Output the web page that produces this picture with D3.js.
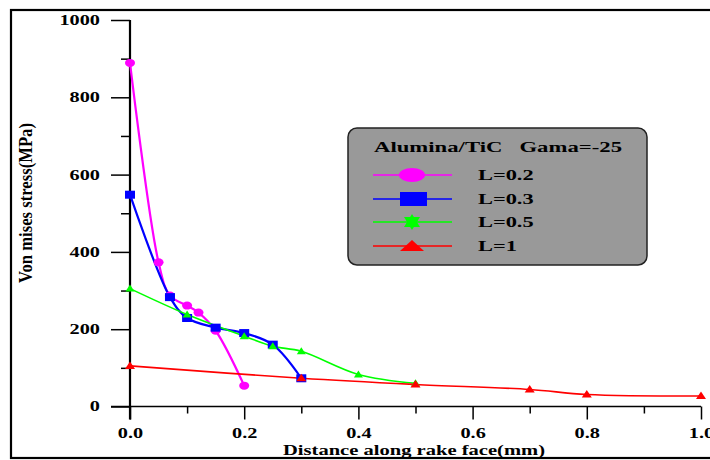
<!DOCTYPE html>
<html><head><meta charset="utf-8">
<script src="https://cdn.jsdelivr.net/npm/d3@7"></script>
<style>
body{margin:0;background:#fff;}
svg{display:block;}
</style></head>
<body><svg id="c" width="710" height="460"></svg>
<script>
// ---- data ----
const xL02 = [0, 0.05, 0.07, 0.1, 0.12, 0.15, 0.2];
const yL02 = [889, 373, 287, 261, 243, 196, 54];
const xL03 = [0, 0.07, 0.1, 0.15, 0.2, 0.25, 0.3];
const yL03 = [548, 283, 229, 204, 190, 160, 73];
const xL05 = [0, 0.1, 0.2, 0.25, 0.3, 0.4, 0.5];
const yL05 = [305, 238, 182, 156, 143, 83, 60];
const xL1 = [0, 0.3, 0.5, 0.7, 0.8, 1.0];
const yL1 = [105, 73, 57, 44, 31, 27];
const seriesNames = ["L=0.2", "L=0.3", "L=0.5", "L=1"];
const seriesColors = ["#ff00ff", "#0000ff", "#00ff00", "#ff0000"];
const xTicksMajor = [0, 0.2, 0.4, 0.6, 0.8, 1.0];
const xTicksMinor = [0.1, 0.3, 0.5, 0.7, 0.9];
const yTicksMajor = [0, 200, 400, 600, 800, 1000];
const yTicksMinor = [100, 300, 500, 700, 900];
const legendTitle = "Alumina/TiC   Gama=-25";
const xTitle = "Distance along rake face(mm)";
const yTitle = "Von mises stress(MPa)";

const FONT = "'Liberation Serif', 'Times New Roman', Times, serif";
const svg = d3.select("#c");
const x = d3.scaleLinear().domain([0, 1]).range([130, 701]);
const y = d3.scaleLinear().domain([0, 1000]).range([406.5, 20]);
const SX = 1.45;

// outer frame
svg.append("rect").attr("x", 11).attr("y", 10).attr("width", 720).attr("height", 448)
  .attr("fill", "none").attr("stroke", "#000").attr("stroke-width", 2.2);

// axes
const gx = svg.append("g").attr("transform", `translate(0,${y(0)})`)
  .call(d3.axisBottom(x).tickValues(xTicksMajor).tickSize(13).tickSizeOuter(0).tickPadding(9)
    .tickFormat(d3.format(".1f")));
const gxm = svg.append("g").attr("transform", `translate(0,${y(0)})`)
  .call(d3.axisBottom(x).tickValues(xTicksMinor).tickSize(7).tickSizeOuter(0).tickFormat(""));
gxm.select(".domain").remove();
gx.select(".domain").attr("d", `M${x(0)-19},0H${x(1)}`).attr("stroke-width", 1.5);

const gy = svg.append("g").attr("transform", `translate(${x(0)},0)`)
  .call(d3.axisLeft(y).tickValues(yTicksMajor).tickSize(19).tickSizeOuter(0).tickPadding(11)
    .tickFormat(d3.format("d")));
const gym = svg.append("g").attr("transform", `translate(${x(0)},0)`)
  .call(d3.axisLeft(y).tickValues(yTicksMinor).tickSize(9).tickSizeOuter(0).tickFormat(""));
gym.select(".domain").remove();
gy.select(".domain").attr("d", `M0,${y(1000)}V${y(0)+13}`).attr("stroke-width", 2.2);

[gx, gy, gxm, gym].forEach(g => {
  g.attr("font-family", null).attr("font-size", null);
  g.selectAll(".tick line").attr("stroke", "#000").attr("stroke-width", 1.5);
});
[gx, gy].forEach(g => {
  g.selectAll("text").style("font-family", FONT)
    .style("font-size", "14px").style("font-weight", "bold").attr("fill", "#000");
});
gy.selectAll("text").each(function () {
  const t = d3.select(this);
  t.attr("x", +t.attr("x") / SX).attr("transform", `scale(${SX},1)`);
});
gx.selectAll("text").attr("transform", `scale(${SX},1)`);

// titles
svg.append("text").attr("x", 414).attr("y", 455).attr("text-anchor", "middle")
  .style("font-family", FONT).style("font-size", "14px").style("font-weight", "bold")
  .attr("textLength", 262).attr("lengthAdjust", "spacingAndGlyphs").text(xTitle);
svg.append("text").attr("transform", "translate(32,203) rotate(-90)").attr("text-anchor", "middle")
  .style("font-family", FONT).style("font-size", "18px").style("font-weight", "bold")
  .attr("textLength", 160).attr("lengthAdjust", "spacingAndGlyphs").text(yTitle);

// series
const line = d3.line().x(d => x(d[0])).y(d => y(d[1])).curve(d3.curveCatmullRom.alpha(0.5));
const series = [
  {xs: xL02, ys: yL02, w: 2.2, m: "ellipse"},
  {xs: xL03, ys: yL03, w: 2.2, m: "square"},
  {xs: xL05, ys: yL05, w: 1.6, m: "tri-s"},
  {xs: xL1, ys: yL1, w: 1.6, m: "tri"}
];
series.forEach((s, i) => {
  const pts = s.xs.map((v, j) => [v, s.ys[j]]);
  svg.append("path").datum(pts).attr("d", line).attr("fill", "none")
    .attr("stroke", seriesColors[i]).attr("stroke-width", s.w);
});
function marker(g, type, cx, cy, col, k) {
  if (type === "ellipse") g.append("ellipse").attr("cx", cx).attr("cy", cy).attr("rx", 5 * k).attr("ry", 4 * k).attr("fill", col);
  else if (type === "square") g.append("rect").attr("x", cx - 5 * k).attr("y", cy - 4 * k).attr("width", 10 * k).attr("height", 8 * k).attr("fill", col);
  else if (type === "tri-s") g.append("path").attr("d", `M${cx},${cy - 4 * k}L${cx + 4.5 * k},${cy + 3 * k}L${cx - 4.5 * k},${cy + 3 * k}Z`).attr("fill", col);
  else if (type === "tri") g.append("path").attr("d", `M${cx},${cy - 4.5 * k}L${cx + 5 * k},${cy + 3 * k}L${cx - 5 * k},${cy + 3 * k}Z`).attr("fill", col);
}
series.forEach((s, i) => {
  const g = svg.append("g");
  s.xs.forEach((v, j) => marker(g, s.m, x(v), y(s.ys[j]), seriesColors[i], 1));
});

// legend
const lg = svg.append("g");
lg.append("rect").attr("x", 348).attr("y", 128).attr("width", 299).attr("height", 137)
  .attr("rx", 9).attr("fill", "#999999").attr("stroke", "#222").attr("stroke-width", 1.5);
lg.append("text").attr("x", 374).attr("y", 152)
  .style("font-family", FONT).style("font-size", "14px").style("font-weight", "bold")
  .style("white-space", "pre")
  .attr("textLength", 248).attr("lengthAdjust", "spacingAndGlyphs").text(legendTitle);
const legY = [175, 199, 222, 246];
seriesNames.forEach((nm, i) => {
  const yy = legY[i], c = seriesColors[i];
  lg.append("line").attr("x1", 373).attr("x2", 452).attr("y1", yy).attr("y2", yy)
    .attr("stroke", c).attr("stroke-width", 1.3);
  if (i === 0) lg.append("ellipse").attr("cx", 412).attr("cy", yy).attr("rx", 13).attr("ry", 7).attr("fill", c);
  if (i === 1) lg.append("rect").attr("x", 400).attr("y", yy - 7).attr("width", 27).attr("height", 14).attr("fill", c);
  if (i === 2) {
    lg.append("path").attr("d", `M412,${yy - 8}L420,${yy + 5}L404,${yy + 5}Z`).attr("fill", c);
    lg.append("path").attr("d", `M412,${yy + 8}L420,${yy - 5}L404,${yy - 5}Z`).attr("fill", c);
  }
  if (i === 3) lg.append("path").attr("d", `M412,${yy - 6}L424,${yy + 5}L400,${yy + 5}Z`).attr("fill", c);
  lg.append("text").attr("transform", `translate(478,${yy + 5}) scale(1.6,1)`)
    .style("font-family", FONT).style("font-size", "14px").style("font-weight", "bold").text(nm);
});
</script></body></html>
